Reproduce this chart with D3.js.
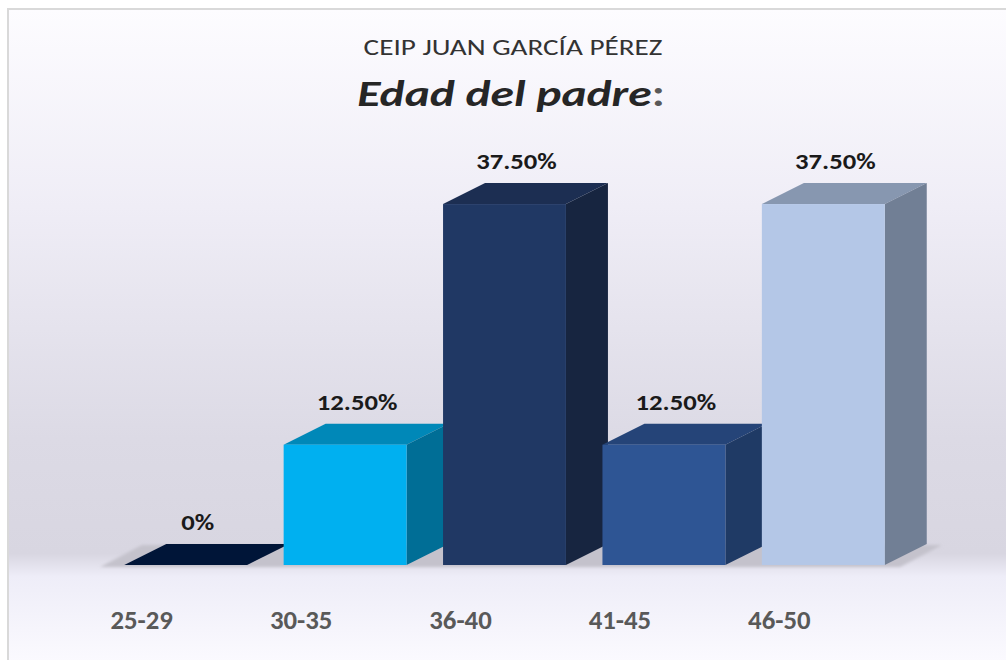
<!DOCTYPE html>
<html>
<head>
<meta charset="utf-8">
<script src="https://cdn.jsdelivr.net/npm/d3@7"></script>
<style>
  html, body { margin: 0; padding: 0; background: #ffffff; }
  svg { display: block; }
  text { font-family: Carlito, Lato, "Open Sans", sans-serif; }
</style>
</head>
<body>
<svg id="chart" width="1006" height="660"></svg>
<script>
// data
const categories = ["25-29", "30-35", "36-40", "41-45", "46-50"];
const values = [0, 12.5, 37.5, 12.5, 37.5];
const valueLabels = ["0%", "12.50%", "37.50%", "12.50%", "37.50%"];
const frontColors = ["#001538", "#00b0f0", "#203864", "#2e5594", "#b4c7e7"];
const topColors = ["#001538", "#0088b8", "#1c2e52", "#254478", "#8797b0"];
const sideColors = ["#00102c", "#006e96", "#172540", "#1f3a65", "#717f95"];

const svg = d3.select("#chart"),
      width = +svg.attr("width"),
      height = +svg.attr("height");

const depthX = 42, depthY = 21;

const x = d3.scaleBand()
    .domain(categories)
    .range([106, 903])
    .paddingInner(0.229)
    .paddingOuter(0.1145);

const y = d3.scaleLinear()
    .domain([0, 40])
    .range([565, 180]);

// background gradients
const defs = svg.append("defs");
const bg = defs.append("linearGradient")
    .attr("id", "bg").attr("x1", 0).attr("y1", 0).attr("x2", 0).attr("y2", 1);
[[0, "#fdfcff"], [0.3, "#efedf6"], [0.65, "#dcdae5"], [0.825, "#d8d6e1"],
 [0.86, "#eeedf8"], [1, "#fcfbff"]].forEach(s =>
  bg.append("stop").attr("offset", s[0]).attr("stop-color", s[1]));

const blur = defs.append("filter").attr("id", "soft")
    .attr("x", "-10%").attr("y", "-50%").attr("width", "120%").attr("height", "200%");
blur.append("feGaussianBlur").attr("stdDeviation", 1.6);

svg.append("rect")
    .attr("x", 8).attr("y", 9)
    .attr("width", width).attr("height", height)
    .attr("fill", "url(#bg)")
    .attr("stroke", "#d9d9d9")
    .attr("stroke-width", 2);

// floor
const x0 = x.range()[0] - 6, x1 = x.range()[1] - 3;
svg.append("path")
    .attr("d", `M${x0},${y(0) + 2} L${x1},${y(0) + 2} L${x1 + depthX},${y(0) - depthY + 1} L${x0 + depthX},${y(0) - depthY + 1} Z`)
    .attr("fill", "#c4c2cc")
    .attr("filter", "url(#soft)");

// titles (text is stretched sideways a little, as in the original)
svg.append("text")
    .attr("transform", "translate(513,55) scale(1.27,1)")
    .attr("text-anchor", "middle")
    .attr("font-size", 23)
    .attr("fill", "#333333")
    .text("CEIP JUAN GARCÍA PÉREZ");

const t2 = svg.append("text")
    .attr("transform", "translate(511,106) scale(1.32,1)")
    .attr("text-anchor", "middle")
    .attr("font-size", 36)
    .attr("font-weight", "bold");
t2.append("tspan").attr("font-style", "italic").attr("fill", "#262626").text("Edad del padre");
t2.append("tspan").attr("fill", "#595959").text(":");

// bars
const bars = svg.append("g")
    .selectAll("g")
    .data(values)
    .enter().append("g");

bars.each(function(d, i) {
  const g = d3.select(this);
  const bx = x(categories[i]), bw = x.bandwidth(), ty = y(d), by = y(0);
  g.append("path")
    .attr("fill", topColors[i])
    .attr("d", `M${bx},${ty} L${bx + bw},${ty} L${bx + bw + depthX},${ty - depthY} L${bx + depthX},${ty - depthY} Z`);
  if (d <= 0) return;
  g.append("path")
    .attr("fill", sideColors[i])
    .attr("d", `M${bx + bw},${ty} L${bx + bw + depthX},${ty - depthY} L${bx + bw + depthX},${by - depthY} L${bx + bw},${by} Z`);
  g.append("rect")
    .attr("x", bx)
    .attr("y", ty)
    .attr("width", bw)
    .attr("height", by - ty)
    .attr("fill", frontColors[i]);
});

// value labels
svg.append("g")
    .selectAll("text")
    .data(values)
    .enter().append("text")
    .attr("transform", (d, i) =>
      `translate(${x(categories[i]) + x.bandwidth() / 2 + 12},${y(d) - depthY - 14}) scale(1.16,1)`)
    .attr("text-anchor", "middle")
    .attr("font-size", 23)
    .attr("font-weight", "bold")
    .attr("fill", "#1a1a1a")
    .text((d, i) => valueLabels[i]);

// category labels
svg.append("g")
    .selectAll("text")
    .data(categories)
    .enter().append("text")
    .attr("transform", d => `translate(${x(d) + x.bandwidth() / 2 - 44},629) scale(1.03,1)`)
    .attr("text-anchor", "middle")
    .attr("font-size", 26)
    .attr("font-weight", "bold")
    .attr("fill", "#595959")
    .text(d => d);
</script>
</body>
</html>
